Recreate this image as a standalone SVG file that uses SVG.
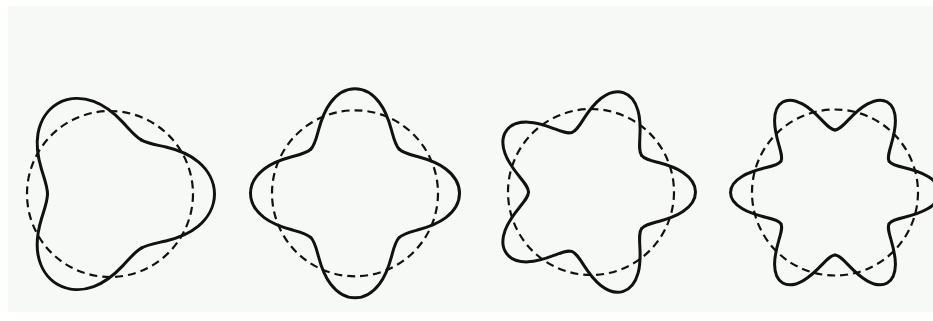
<svg xmlns="http://www.w3.org/2000/svg" xmlns:xlink="http://www.w3.org/1999/xlink" width="933" height="321" viewBox="0 0 933 321">
<style>
.solid{fill:none;stroke:#111;stroke-width:3;stroke-linecap:round;stroke-linejoin:round}
.dash{fill:none;stroke:#111;stroke-width:2.2;stroke-dasharray:8 5}
</style>
<defs>
<path id="lobe3" class="solid" d="M31.25,-54.13 C37.55,-50.49 45.6,-49.35 55.92,-46.92 C66.24,-44.5 78.62,-40.26 88.33,-32.15 C98.04,-24.04 104.5,-12.16 104.5,0 C104.5,12.16 98.04,24.04 88.33,32.15 C78.62,40.26 66.24,44.5 55.92,46.92 C45.6,49.35 37.55,50.49 31.25,54.13"/>
<path id="lobe4" class="solid" d="M44.19,-44.19 C48.05,-40.34 54.54,-38.84 63.22,-36.5 C71.9,-34.16 82.54,-30.61 90.8,-24.33 C99.05,-18.05 104.5,-9.12 104.5,0 C104.5,9.12 99.05,18.05 90.8,24.33 C82.54,30.61 71.9,34.16 63.22,36.5 C54.54,38.84 48.05,40.34 44.19,44.19"/>
<path id="lobe5" class="solid" d="M50.56,-36.74 C53.13,-33.21 58.82,-31.77 66.69,-29.69 C74.56,-27.62 84.37,-24.64 91.95,-19.54 C99.52,-14.44 104.5,-7.3 104.5,0 C104.5,7.3 99.52,14.44 91.95,19.54 C84.37,24.64 74.56,27.62 66.69,29.69 C58.82,31.77 53.13,33.21 50.56,36.74"/>
<path id="lobe6" class="solid" d="M54.13,-31.25 C55.94,-28.1 61.18,-26.79 68.6,-24.97 C76.02,-23.15 85.37,-20.61 92.57,-16.32 C99.77,-12.04 104.5,-6.08 104.5,0 C104.5,6.08 99.77,12.04 92.57,16.32 C85.37,20.61 76.02,23.15 68.6,24.97 C61.18,26.79 55.94,28.1 54.13,31.25"/>
</defs>
<rect x="8" y="6" width="925" height="306" fill="#f7f9f7"/>
<g id="shape-n3" transform="translate(110,194)">
<circle class="dash" r="83"/>
<use xlink:href="#lobe3" href="#lobe3"/>
<use xlink:href="#lobe3" href="#lobe3" transform="rotate(120)"/>
<use xlink:href="#lobe3" href="#lobe3" transform="rotate(240)"/>
</g>
<g id="shape-n4" transform="translate(355,193.3)">
<circle class="dash" r="83"/>
<use xlink:href="#lobe4" href="#lobe4"/>
<use xlink:href="#lobe4" href="#lobe4" transform="rotate(90)"/>
<use xlink:href="#lobe4" href="#lobe4" transform="rotate(180)"/>
<use xlink:href="#lobe4" href="#lobe4" transform="rotate(270)"/>
</g>
<g id="shape-n5" transform="translate(591,192)">
<circle class="dash" r="83"/>
<use xlink:href="#lobe5" href="#lobe5"/>
<use xlink:href="#lobe5" href="#lobe5" transform="rotate(72)"/>
<use xlink:href="#lobe5" href="#lobe5" transform="rotate(144)"/>
<use xlink:href="#lobe5" href="#lobe5" transform="rotate(216)"/>
<use xlink:href="#lobe5" href="#lobe5" transform="rotate(288)"/>
</g>
<g id="shape-n6" transform="translate(835,192.5)">
<circle class="dash" r="83"/>
<use xlink:href="#lobe6" href="#lobe6"/>
<use xlink:href="#lobe6" href="#lobe6" transform="rotate(60)"/>
<use xlink:href="#lobe6" href="#lobe6" transform="rotate(120)"/>
<use xlink:href="#lobe6" href="#lobe6" transform="rotate(180)"/>
<use xlink:href="#lobe6" href="#lobe6" transform="rotate(240)"/>
<use xlink:href="#lobe6" href="#lobe6" transform="rotate(300)"/>
</g>
</svg>
